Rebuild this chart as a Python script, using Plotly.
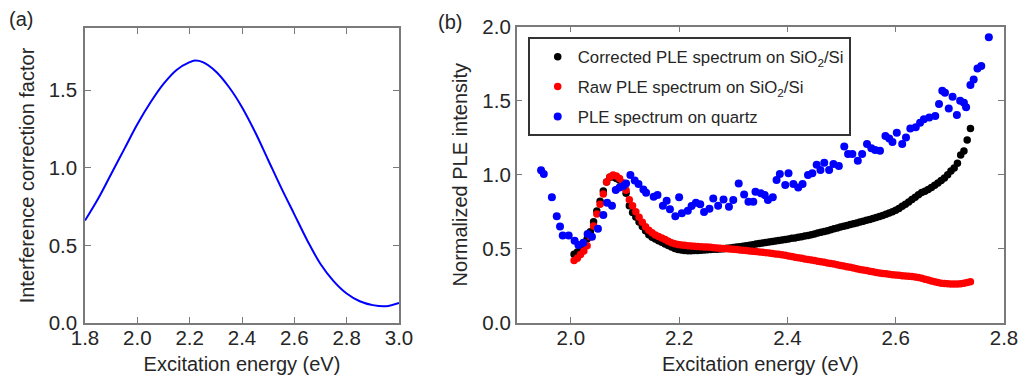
import plotly.graph_objects as go

# ---------------- data: panel (a) ----------------
cf_energy = [1.80, 1.85, 1.90, 1.95, 2.00, 2.05, 2.10, 2.15, 2.20, 2.22, 2.25, 2.30, 2.35,
             2.40, 2.45, 2.50, 2.55, 2.60, 2.65, 2.70, 2.75, 2.80, 2.85, 2.90, 2.95, 3.00]
cf_value = [0.66, 0.80, 0.96, 1.12, 1.28, 1.42, 1.54, 1.63, 1.68, 1.69, 1.68, 1.62, 1.52,
            1.39, 1.23, 1.05, 0.87, 0.70, 0.53, 0.38, 0.27, 0.19, 0.14, 0.115, 0.108, 0.13]

# ---------------- data: panel (b) ----------------
sio2_energy = [
    2.006, 2.012, 2.018, 2.024, 2.030, 2.036, 2.042, 2.048, 2.054, 2.060,
    2.066, 2.072, 2.078, 2.084, 2.090, 2.096, 2.102, 2.108, 2.114, 2.120,
    2.126, 2.132, 2.138, 2.144, 2.150, 2.156, 2.162, 2.168, 2.174, 2.180,
    2.186, 2.192, 2.198, 2.204, 2.210, 2.216, 2.222, 2.228, 2.234, 2.240,
    2.246, 2.252, 2.258, 2.264, 2.270, 2.276, 2.282, 2.288, 2.294, 2.300,
    2.306, 2.312, 2.318, 2.324, 2.330, 2.336, 2.342, 2.348, 2.354, 2.360,
    2.366, 2.372, 2.378, 2.384, 2.390, 2.396, 2.402, 2.408, 2.414, 2.420,
    2.426, 2.432, 2.438, 2.444, 2.450, 2.456, 2.462, 2.468, 2.474, 2.480,
    2.486, 2.492, 2.498, 2.504, 2.510, 2.516, 2.522, 2.528, 2.534, 2.540,
    2.546, 2.552, 2.558, 2.564, 2.570, 2.576, 2.582, 2.588, 2.594, 2.600,
    2.606, 2.612, 2.618, 2.624, 2.630, 2.636, 2.642, 2.648, 2.654, 2.660,
    2.666, 2.672, 2.678, 2.684, 2.690, 2.696, 2.702, 2.708, 2.714, 2.720,
    2.726, 2.732, 2.738]

corrected = [
    0.462, 0.478, 0.500, 0.530, 0.565, 0.615, 0.682, 0.755, 0.820, 0.890,
    0.950, 0.982, 0.985, 0.975, 0.962, 0.930, 0.875, 0.790, 0.745, 0.715,
    0.680, 0.650, 0.622, 0.595, 0.578, 0.565, 0.553, 0.543, 0.532, 0.521,
    0.512, 0.502, 0.495, 0.491, 0.488, 0.486, 0.486, 0.487, 0.488, 0.489,
    0.491, 0.493, 0.495, 0.496, 0.497, 0.498, 0.500, 0.503, 0.505, 0.508,
    0.511, 0.514, 0.517, 0.520, 0.524, 0.527, 0.531, 0.535, 0.538, 0.542,
    0.545, 0.549, 0.552, 0.556, 0.559, 0.563, 0.566, 0.570, 0.573, 0.577,
    0.581, 0.586, 0.590, 0.595, 0.600, 0.606, 0.611, 0.617, 0.622, 0.628,
    0.634, 0.640, 0.646, 0.652, 0.657, 0.663, 0.668, 0.674, 0.680, 0.686,
    0.692, 0.698, 0.704, 0.710, 0.717, 0.724, 0.732, 0.741, 0.750, 0.760,
    0.772, 0.786, 0.800, 0.816, 0.832, 0.848, 0.865, 0.880, 0.888, 0.900,
    0.914, 0.928, 0.944, 0.960, 0.978, 1.000, 1.025, 1.045, 1.077, 1.133,
    1.160, 1.235, 1.313]

raw = [
    0.420, 0.435, 0.460, 0.485, 0.520, 0.580, 0.653, 0.735, 0.800, 0.870,
    0.950, 0.985, 0.998, 0.992, 0.975, 0.945, 0.895, 0.830, 0.790, 0.750,
    0.712, 0.678, 0.648, 0.625, 0.608, 0.593, 0.582, 0.572, 0.562, 0.550,
    0.540, 0.533, 0.528, 0.525, 0.523, 0.520, 0.518, 0.517, 0.515, 0.514,
    0.512, 0.511, 0.509, 0.507, 0.505, 0.503, 0.501, 0.500, 0.498, 0.496,
    0.494, 0.492, 0.489, 0.487, 0.485, 0.483, 0.481, 0.478, 0.476, 0.473,
    0.471, 0.468, 0.465, 0.462, 0.459, 0.455, 0.451, 0.447, 0.443, 0.439,
    0.435, 0.431, 0.427, 0.423, 0.420, 0.416, 0.412, 0.408, 0.404, 0.400,
    0.396, 0.392, 0.387, 0.383, 0.378, 0.374, 0.369, 0.365, 0.360, 0.356,
    0.352, 0.348, 0.344, 0.340, 0.336, 0.333, 0.330, 0.327, 0.324, 0.322,
    0.320, 0.318, 0.316, 0.314, 0.312, 0.309, 0.305, 0.300, 0.294, 0.288,
    0.282, 0.276, 0.271, 0.267, 0.265, 0.263, 0.262, 0.261, 0.262, 0.264,
    0.267, 0.272, 0.277]

quartz_energy = [
    1.945, 1.950, 1.965, 1.974, 1.980, 1.985, 1.996, 2.007, 2.014, 2.023,
    2.031, 2.039, 2.050, 2.060, 2.067, 2.076, 2.083, 2.090, 2.097, 2.102,
    2.110, 2.118, 2.125, 2.134, 2.139, 2.153, 2.160, 2.170, 2.177, 2.183,
    2.193, 2.200, 2.205, 2.216, 2.223, 2.231, 2.239, 2.246, 2.256, 2.263,
    2.272, 2.282, 2.292, 2.300, 2.310, 2.320, 2.328, 2.337, 2.341, 2.351,
    2.358, 2.364, 2.373, 2.380, 2.386, 2.396, 2.402, 2.411, 2.420, 2.428,
    2.438, 2.446, 2.454, 2.461, 2.468, 2.477, 2.485, 2.495, 2.505, 2.512,
    2.520, 2.530, 2.538, 2.547, 2.555, 2.562, 2.571, 2.581, 2.588, 2.594,
    2.602, 2.612, 2.619, 2.627, 2.637, 2.645, 2.652, 2.662, 2.673, 2.680,
    2.686, 2.691, 2.698, 2.705, 2.713, 2.719, 2.726, 2.730, 2.738, 2.744,
    2.751, 2.758, 2.772]

quartz = [
    1.030, 1.005, 0.847, 0.720, 0.650, 0.590, 0.590, 0.554, 0.525, 0.540,
    0.600, 0.580, 0.635, 0.727, 0.810, 0.790, 0.896, 0.914, 0.923, 0.940,
    0.998, 0.960, 0.937, 0.900, 0.878, 0.851, 0.862, 0.790, 0.824, 0.766,
    0.720, 0.847, 0.739, 0.757, 0.788, 0.810, 0.800, 0.748, 0.770, 0.840,
    0.790, 0.833, 0.784, 0.829, 0.941, 0.867, 0.817, 0.817, 0.885, 0.874,
    0.862, 0.829, 0.847, 0.964, 1.005, 0.930, 1.009, 0.937, 0.914, 0.937,
    0.998, 1.009, 1.068, 1.032, 1.081, 1.032, 1.072, 1.059, 1.190, 1.140,
    1.140, 1.095, 1.140, 1.207, 1.178, 1.167, 1.162, 1.261, 1.245, 1.221,
    1.284, 1.207, 1.252, 1.313, 1.320, 1.351, 1.374, 1.387, 1.396, 1.477,
    1.568, 1.554, 1.448, 1.527, 1.403, 1.500, 1.486, 1.455, 1.606, 1.644,
    1.718, 1.734, 1.928]

legend_names = ["Corrected PLE spectrum on SiO<sub>2</sub>/Si",
                "Raw PLE spectrum on SiO<sub>2</sub>/Si",
                "PLE spectrum on quartz"]

# The page adds an 8 px body margin, so the figure is sized to fill the rest of the window
OFF = 8
WIN_W, WIN_H = 1027, 382
W, H = WIN_W - OFF, WIN_H - OFF
FONT = "Arial, Liberation Sans, sans-serif"
TXT = "#262626"
FRAME = "#7a7a7a"

def px_x(p):
    return (p - OFF) / W

def px_y(p):
    return 1 - (p - OFF) / H

fig = go.Figure()

fig.add_trace(go.Scatter(x=cf_energy, y=cf_value, mode="lines", line=dict(color="#0000FF", width=2, shape="spline"),
                         showlegend=False, xaxis="x", yaxis="y"))

fig.add_trace(go.Scatter(x=sio2_energy, y=corrected, mode="markers", name=legend_names[0],
                         marker=dict(color="#000000", size=7.5), xaxis="x2", yaxis="y2", legendgroup="a"))
fig.add_trace(go.Scatter(x=sio2_energy, y=raw, mode="markers", name=legend_names[1],
                         marker=dict(color="#FF0000", size=7.5), xaxis="x2", yaxis="y2", legendgroup="b"))
fig.add_trace(go.Scatter(x=quartz_energy, y=quartz, mode="markers", name=legend_names[2],
                         marker=dict(color="#0000FF", size=8), xaxis="x2", yaxis="y2", legendgroup="c"))

axis_common = dict(showline=True, linecolor=FRAME, linewidth=1.5, mirror="ticks", ticks="inside",
                   ticklen=6, tickwidth=1.2, tickcolor=FRAME, showgrid=False, zeroline=False,
                   automargin=False,
                   tickfont=dict(family=FONT, size=20.5, color=TXT), tickformat=".1f")

title_font = dict(size=20, family=FONT, color=TXT)

fig.update_layout(
    width=W, height=H, margin=dict(l=0, r=0, t=0, b=0),
    paper_bgcolor="white", plot_bgcolor="white",
    font=dict(family=FONT, color=TXT),
    xaxis=dict(domain=[px_x(85), px_x(399)], range=[1.8, 3.0], dtick=0.2, tick0=1.8, anchor="y",
               ticklabelstandoff=-4,
               title=dict(text="Excitation energy (eV)", font=title_font, standoff=9),
               **axis_common),
    yaxis=dict(domain=[px_y(323), px_y(28)], range=[0, 1.9], dtick=0.5, tick0=0, anchor="x",
               ticklabelstandoff=2,
               title=dict(text="Interference correction factor", font=title_font, standoff=9),
               **axis_common),
    xaxis2=dict(domain=[px_x(516.7), px_x(1004)], range=[1.9, 2.8], dtick=0.2, tick0=2.0, anchor="y2",
                ticklabelstandoff=-4,
                title=dict(text="Excitation energy (eV)", font=title_font, standoff=9),
                **axis_common),
    yaxis2=dict(domain=[px_y(322.7), px_y(26.7)], range=[0, 2.0], dtick=0.5, tick0=0, anchor="x2",
                ticklabelstandoff=0,
                title=dict(text="Normalized PLE intensity", font=title_font, standoff=9),
                **axis_common),
    legend=dict(x=px_x(527.7), y=px_y(37.3), xanchor="left", yanchor="top",
                bordercolor="#333333", borderwidth=2, bgcolor="white", indentation=8,
                font=dict(family=FONT, size=16.8, color=TXT), traceorder="grouped", tracegroupgap=5),
    annotations=[
        dict(text="(a)", x=px_x(21), y=px_y(19), xref="paper", yref="paper", showarrow=False,
             xanchor="center", yanchor="middle", font=dict(family=FONT, size=20, color=TXT)),
        dict(text="(b)", x=px_x(450), y=px_y(22), xref="paper", yref="paper", showarrow=False,
             xanchor="center", yanchor="middle", font=dict(family=FONT, size=20, color=TXT)),
    ],
)

fig.write_html("out.html")
